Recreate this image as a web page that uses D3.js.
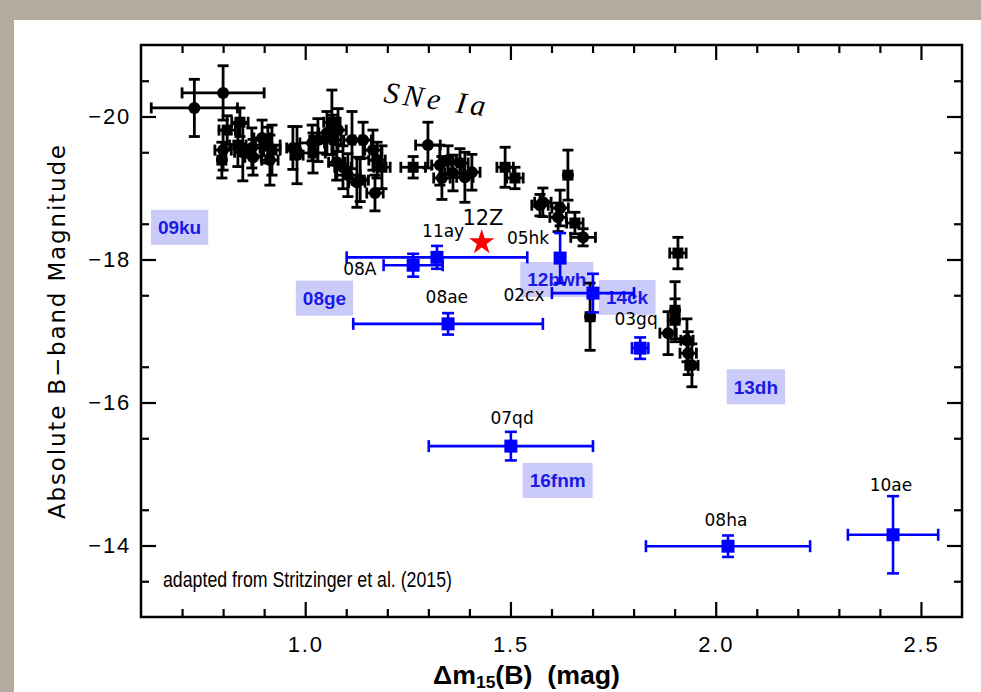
<!DOCTYPE HTML>
<html>
<head>
<meta charset="utf-8">
<title>SNe Ia</title>
<script src="https://d3js.org/d3.v7.min.js"></script>
<style>
  body { margin: 0; }
</style>
</head>

<body>
<script>

"use strict";

// normal SNe Ia: [dm15, MB, dm15 err, MB err, marker]
const snIa = [
  [0.73, -20.12, 0.105, 0.40, "c"],
  [0.80, -20.33, 0.10, 0.38, "c"],
  [0.797, -19.39, 0.01, 0.25, "c"],
  [0.80, -19.53, 0.02, 0.28, "c"],
  [0.81, -19.81, 0.02, 0.20, "s"],
  [0.841, -19.92, 0.02, 0.20, "s"],
  [0.836, -19.60, 0.02, 0.30, "s"],
  [0.848, -19.50, 0.02, 0.40, "c"],
  [0.870, -19.56, 0.02, 0.28, "c"],
  [0.873, -19.43, 0.02, 0.25, "c"],
  [0.895, -19.70, 0.02, 0.25, "c"],
  [0.909, -19.60, 0.03, 0.25, "c"],
  [0.914, -19.39, 0.02, 0.35, "c"],
  [0.919, -19.53, 0.02, 0.35, "s"],
  [0.970, -19.56, 0.015, 0.30, "c"],
  [0.980, -19.46, 0.015, 0.40, "c"],
  [1.017, -19.63, 0.03, 0.25, "c"],
  [1.019, -19.49, 0.03, 0.28, "s"],
  [1.031, -19.67, 0.02, 0.30, "c"],
  [1.053, -19.77, 0.02, 0.30, "c"],
  [1.065, -19.92, 0.02, 0.45, "s"],
  [1.068, -19.67, 0.02, 0.35, "c"],
  [1.080, -19.81, 0.02, 0.30, "c"],
  [1.077, -19.36, 0.02, 0.25, "c"],
  [1.092, -19.29, 0.02, 0.30, "c"],
  [1.114, -19.67, 0.02, 0.40, "c"],
  [1.104, -19.18, 0.03, 0.30, "c"],
  [1.126, -19.08, 0.02, 0.35, "c"],
  [1.134, -19.11, 0.02, 0.30, "s"],
  [1.141, -19.67, 0.02, 0.25, "c"],
  [1.165, -19.53, 0.02, 0.28, "c"],
  [1.175, -19.39, 0.02, 0.25, "c"],
  [1.187, -19.29, 0.02, 0.30, "s"],
  [1.170, -18.93, 0.02, 0.25, "c"],
  [1.263, -19.29, 0.03, 0.15, "s"],
  [1.299, -19.60, 0.03, 0.32, "c"],
  [1.328, -19.32, 0.02, 0.28, "c"],
  [1.333, -19.14, 0.02, 0.30, "c"],
  [1.348, -19.39, 0.02, 0.20, "c"],
  [1.360, -19.21, 0.02, 0.25, "c"],
  [1.377, -19.35, 0.02, 0.20, "c"],
  [1.389, -19.15, 0.02, 0.35, "c"],
  [1.406, -19.22, 0.02, 0.25, "c"],
  [1.487, -19.29, 0.02, 0.28, "s"],
  [1.511, -19.14, 0.02, 0.15, "s"],
  [1.572, -18.76, 0.02, 0.15, "c"],
  [1.579, -18.80, 0.02, 0.20, "c"],
  [1.640, -19.18, 0.01, 0.35, "c"],
  [1.616, -18.59, 0.02, 0.20, "c"],
  [1.621, -18.72, 0.02, 0.25, "c"],
  [1.657, -18.51, 0.02, 0.15, "s"],
  [1.677, -18.31, 0.03, 0.12, "c"],
  [1.694, -17.20, 0.01, 0.47, "c"],
  [1.908, -18.09, 0.02, 0.22, "s"],
  [1.901, -17.29, 0.01, 0.40, "c"],
  [1.901, -17.15, 0.01, 0.30, "c"],
  [1.884, -16.97, 0.02, 0.30, "c"],
  [1.930, -16.87, 0.015, 0.30, "c"],
  [1.933, -16.69, 0.02, 0.30, "c"],
  [1.942, -16.52, 0.015, 0.30, "c"]
];

// peculiar objects: [name, dm15, MB, dm15 err, MB err]
const peculiar = [
  ["08A", 1.263, -17.92, 0.072, 0.16],
  ["11ay", 1.321, -18.03, 0.22, 0.16],
  ["05hk", 1.621, -18.02, 0.0, 0.35],
  ["02cx", 1.701, -17.53, 0.10, 0.27],
  ["08ae", 1.348, -17.10, 0.231, 0.15],
  ["03gq", 1.816, -16.76, 0.02, 0.15],
  ["07qd", 1.501, -15.39, 0.20, 0.20],
  ["08ha", 2.03, -13.99, 0.20, 0.15],
  ["10ae", 2.432, -14.15, 0.11, 0.54]
];

// where each name is written, in data units (centre, baseline)
const peculiarLabels = [
  ["08A", 1.133, -17.78],
  ["11ay", 1.336, -18.31],
  ["05hk", 1.543, -18.22],
  ["02cx", 1.533, -17.42],
  ["08ae", 1.345, -17.39],
  ["03gq", 1.806, -17.08],
  ["07qd", 1.504, -15.70],
  ["08ha", 2.025, -14.27],
  ["10ae", 2.427, -14.76]
];

const star12Z = [1.43, -18.24];
const star12ZLabel = [1.433, -18.48];

// added objects (highlighted boxes), centre in data units
const added = [
  ["09ku", 0.694, -18.45],
  ["08ge", 1.047, -17.46],
  ["12bwh", 1.613, -17.72],
  ["14ck", 1.784, -17.47],
  ["13dh", 2.098, -16.22],
  ["16fnm", 1.615, -14.91]
];

const xTicks = [1.0, 1.5, 2.0, 2.5];
const yTicks = [-20, -18, -16, -14];

const W = 981, H = 692;
const svg = d3.select("body").append("svg")
  .attr("width", W)
  .attr("height", H);

svg.append("rect").attr("width", W).attr("height", H).attr("fill", "#b4ab9e");
svg.append("rect").attr("x", 14).attr("y", 20).attr("width", W - 14).attr("height", H - 20).attr("fill", "#ffffff");

const x = d3.scaleLinear().domain([0.6, 2.6]).range([141, 962]);
const y = d3.scaleLinear().domain([-21, -13]).range([45, 617]);

const tickFont = "'Liberation Sans', Arial, sans-serif";

// axes, ticks inward on all four sides
function styleAxis(g) {
  g.select(".domain").remove();
  g.selectAll("line").attr("stroke", "#000").attr("stroke-width", 2.2);
  g.selectAll("text").attr("font-family", tickFont).attr("font-size", 22)
    .attr("fill", "#000").attr("letter-spacing", 1.8);
}

const xMinor = d3.range(0.7, 2.6, 0.1).filter((v) => Math.abs(v * 2 - Math.round(v * 2)) > 0.01);
const yMinor = d3.range(-20.5, -13, 1);

svg.append("g").attr("transform", "translate(0,617)")
  .call(d3.axisBottom(x).tickValues(xTicks).tickFormat(d3.format(".1f")).tickSizeInner(-15).tickSizeOuter(0).tickPadding(19))
  .call(styleAxis);
svg.append("g").attr("transform", "translate(0,617)")
  .call(d3.axisBottom(x).tickValues(xMinor).tickFormat("").tickSizeInner(-8).tickSizeOuter(0))
  .call(styleAxis);
svg.append("g").attr("transform", "translate(0,45)")
  .call(d3.axisTop(x).tickValues(xTicks).tickFormat("").tickSizeInner(-15).tickSizeOuter(0))
  .call(styleAxis);
svg.append("g").attr("transform", "translate(0,45)")
  .call(d3.axisTop(x).tickValues(xMinor).tickFormat("").tickSizeInner(-8).tickSizeOuter(0))
  .call(styleAxis);

svg.append("g").attr("transform", "translate(141,0)")
  .call(d3.axisLeft(y).tickValues(yTicks).tickFormat(d3.format("d")).tickSizeInner(-15).tickSizeOuter(0).tickPadding(10))
  .call(styleAxis);
svg.append("g").attr("transform", "translate(141,0)")
  .call(d3.axisLeft(y).tickValues(yMinor).tickFormat("").tickSizeInner(-8).tickSizeOuter(0))
  .call(styleAxis);
svg.append("g").attr("transform", "translate(962,0)")
  .call(d3.axisRight(y).tickValues(yTicks).tickFormat("").tickSizeInner(-15).tickSizeOuter(0))
  .call(styleAxis);
svg.append("g").attr("transform", "translate(962,0)")
  .call(d3.axisRight(y).tickValues(yMinor).tickFormat("").tickSizeInner(-8).tickSizeOuter(0))
  .call(styleAxis);

svg.append("rect")
  .attr("x", 141).attr("y", 45)
  .attr("width", 962 - 141).attr("height", 617 - 45)
  .attr("fill", "none").attr("stroke", "#000").attr("stroke-width", 2.5);

// axis titles
svg.append("text")
  .attr("transform", "translate(65,332) rotate(-90)")
  .attr("text-anchor", "middle")
  .attr("font-family", "'DejaVu Sans', sans-serif")
  .attr("font-size", 23)
  .attr("textLength", 374)
  .attr("lengthAdjust", "spacing")
  .text("Absolute B\u2212band Magnitude");

const xt = svg.append("text")
  .attr("x", 433).attr("y", 684)
  .attr("font-family", tickFont)
  .attr("font-weight", "bold")
  .attr("font-size", 26)
  .attr("textLength", 187)
  .attr("lengthAdjust", "spacingAndGlyphs");
xt.append("tspan").text("\u0394m");
xt.append("tspan").attr("font-size", 17).attr("dy", 4).text("15");
xt.append("tspan").attr("dy", -4).text("(B)\u00a0\u00a0(mag)");

svg.append("text")
  .attr("x", 163).attr("y", 587)
  .attr("font-family", tickFont)
  .attr("font-size", 22)
  .attr("textLength", 289)
  .attr("lengthAdjust", "spacingAndGlyphs")
  .text("adapted from Stritzinger et al. (2015)");

svg.append("text")
  .attr("transform", "translate(383,102) rotate(8)")
  .attr("font-family", "'Liberation Serif', 'DejaVu Serif', serif")
  .attr("font-style", "italic")
  .attr("font-size", 30)
  .attr("textLength", 102)
  .attr("lengthAdjust", "spacing")
  .text("SNe Ia");

// highlighted boxes go under the data
const boxes = svg.append("g");
for (let a of added) {
  const g = boxes.append("g");
  const r = g.append("rect");
  const t = g.append("text")
    .attr("x", x(a[1])).attr("y", y(a[2]))
    .attr("dy", "0.36em")
    .attr("text-anchor", "middle")
    .attr("font-family", tickFont)
    .attr("font-weight", "bold")
    .attr("font-size", 19)
    .attr("fill", "#1a1ae6")
    .text(a[0]);
  const bb = t.node().getBBox();
  r.attr("x", bb.x - 7).attr("y", y(a[2]) - 17.5)
    .attr("width", bb.width + 14).attr("height", 35)
    .attr("fill", "#cbcbfa");
}

function errorBars(g, cx, cy, xl, xr, yt, yb, color, cap, w) {
  const lines = [];
  if (xr - xl > 1) {
    lines.push([xl, cy, xr, cy], [xl, cy - cap, xl, cy + cap], [xr, cy - cap, xr, cy + cap]);
  }
  if (yb - yt > 1) {
    lines.push([cx, yt, cx, yb], [cx - cap, yt, cx + cap, yt], [cx - cap, yb, cx + cap, yb]);
  }
  g.selectAll("line").data(lines).enter().append("line")
    .attr("x1", (d) => d[0]).attr("y1", (d) => d[1])
    .attr("x2", (d) => d[2]).attr("y2", (d) => d[3])
    .attr("stroke", color).attr("stroke-width", w);
}

const blackG = svg.append("g");
for (let d of snIa) {
  const g = blackG.append("g");
  const cx = x(d[0]), cy = y(d[1]);
  errorBars(g, cx, cy, x(d[0] - d[2]), x(d[0] + d[2]), y(d[1] - d[3]), y(d[1] + d[3]), "#000", 5.5, 2.8);
  if (d[4] === "s") {
    g.append("rect").attr("x", cx - 5.5).attr("y", cy - 5.5).attr("width", 11).attr("height", 11).attr("fill", "#000");
  } else {
    g.append("circle").attr("cx", cx).attr("cy", cy).attr("r", 6).attr("fill", "#000");
  }
}

const blueG = svg.append("g");
for (let d of peculiar) {
  const g = blueG.append("g");
  const cx = x(d[1]), cy = y(d[2]);
  errorBars(g, cx, cy, x(d[1] - d[3]), x(d[1] + d[3]), y(d[2] - d[4]), y(d[2] + d[4]), "#0000ff", 6, 2.6);
  g.append("rect").attr("x", cx - 6.5).attr("y", cy - 6.5).attr("width", 13).attr("height", 13).attr("fill", "#0000ff");
}

svg.append("g").selectAll("text")
  .data(peculiarLabels)
  .enter()
  .append("text")
  .attr("x", (d) => x(d[1]))
  .attr("y", (d) => y(d[2]))
  .attr("text-anchor", "middle")
  .attr("font-family", "'DejaVu Sans', sans-serif")
  .attr("font-size", 17)
  .attr("fill", "#000")
  .text((d) => d[0]);

svg.append("path")
  .attr("transform", "translate(" + x(star12Z[0]) + "," + y(star12Z[1]) + ")")
  .attr("d", d3.symbol(d3.symbolStar, 200)())
  .attr("fill", "#ff0000");

svg.append("text")
  .attr("x", x(star12ZLabel[0])).attr("y", y(star12ZLabel[1]))
  .attr("text-anchor", "middle")
  .attr("font-family", "'DejaVu Sans', sans-serif")
  .attr("font-size", 21)
  .attr("fill", "#000")
  .text("12Z");

</script>
</body>
</html>
